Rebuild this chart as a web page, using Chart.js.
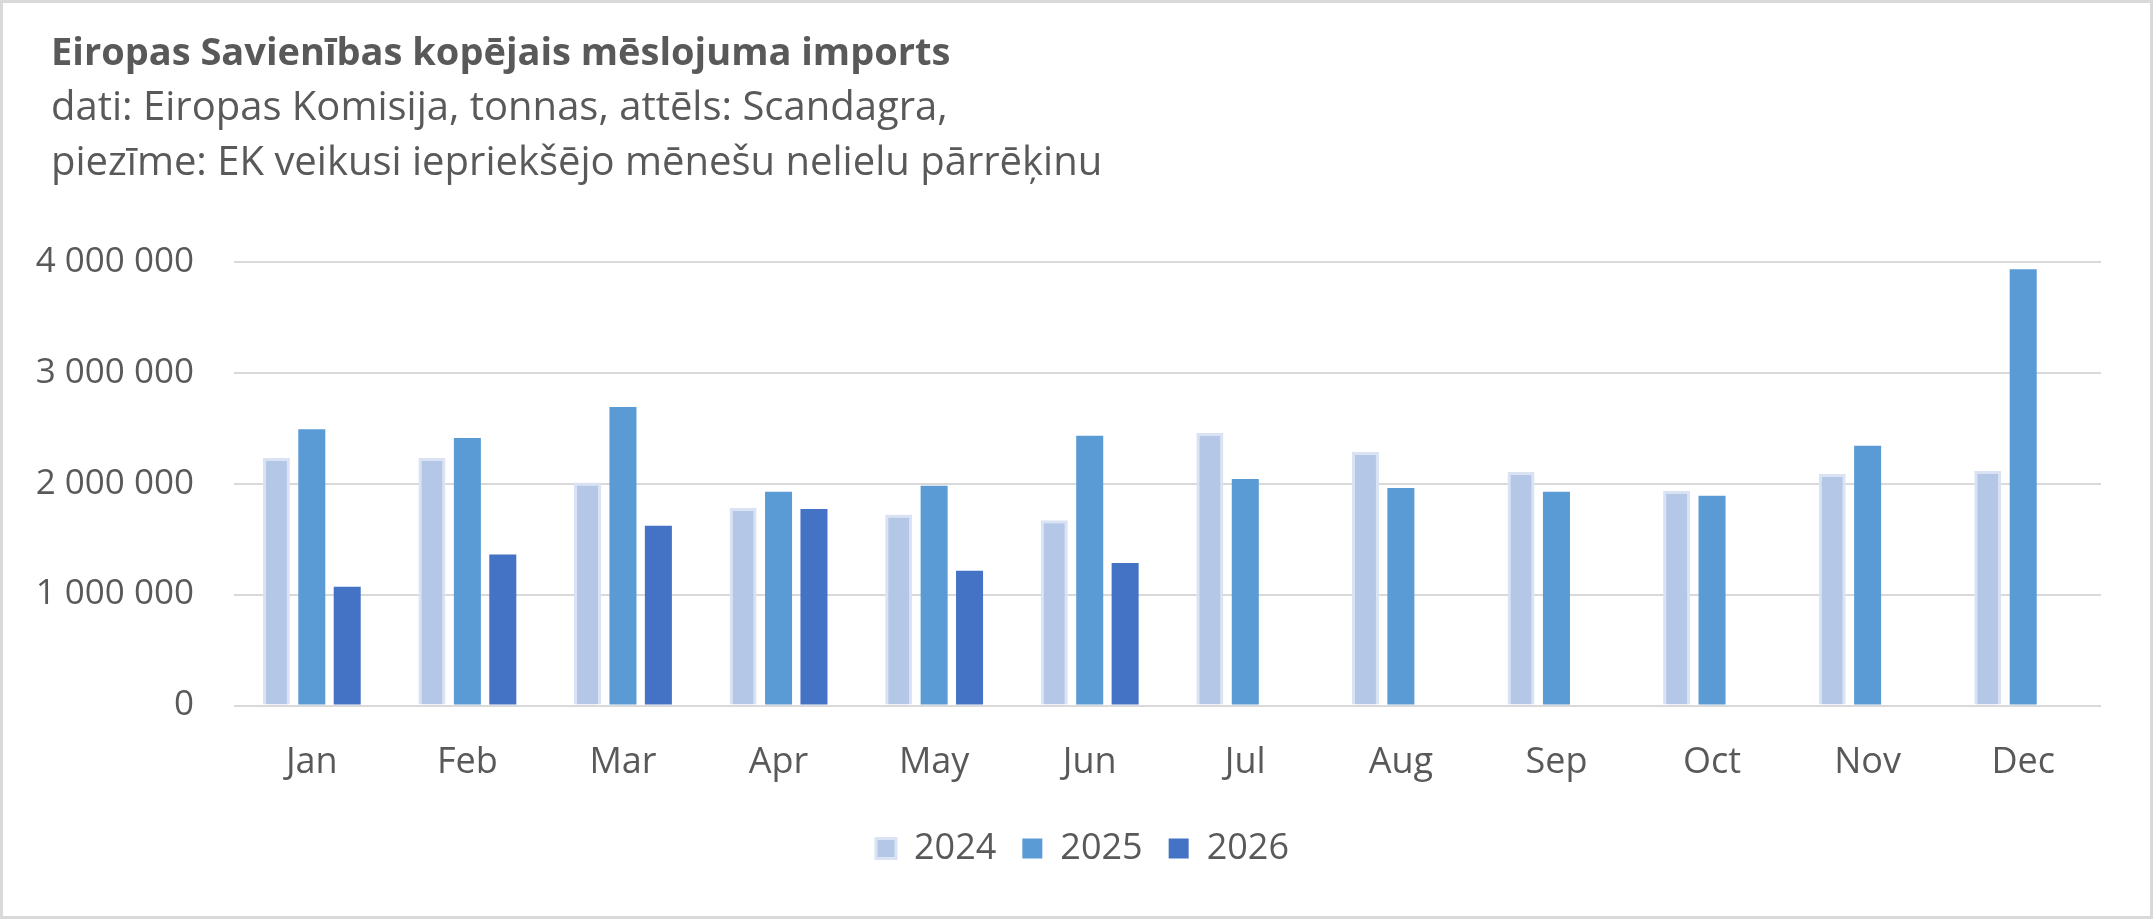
<!DOCTYPE html>
<html lang="lv">
<head>
<meta charset="utf-8">
<title>Eiropas Savienības kopējais mēslojuma imports</title>
<script src="https://cdn.jsdelivr.net/npm/chart.js@4"></script>
<style>
  html, body { margin: 0; padding: 0; background: #ffffff; }
  #chart { display: block; outline: 3px solid #d9d9d9; outline-offset: -3px; }
</style>
</head>
<body>
<canvas id="chart" width="2153" height="919"></canvas>
<script>
// Chart values (tonnas)
const months = ['Jan', 'Feb', 'Mar', 'Apr', 'May', 'Jun', 'Jul', 'Aug', 'Sep', 'Oct', 'Nov', 'Dec']
const imports2024 = [2230000, 2230000, 2010000, 1780000, 1720000, 1670000, 2455000, 2285000, 2105000, 1935000, 2085000, 2115000]
const imports2025 = [2490000, 2410000, 2690000, 1925000, 1980000, 2430000, 2040000, 1960000, 1925000, 1890000, 2340000, 3930000]
const imports2026 = [1070000, 1360000, 1620000, 1770000, 1215000, 1285000, null, null, null, null, null, null]
const yTicks = [0, 1000000, 2000000, 3000000, 4000000]

const titleText = 'Eiropas Savienības kopējais mēslojuma imports'
const subtitleLines = [
  'dati: Eiropas Komisija, tonnas, attēls: Scandagra,',
  'piezīme: EK veikusi iepriekšējo mēnešu nelielu pārrēķinu'
]

const textColor = '#595959'
const fontFamily = '"Open Sans", Lato, sans-serif'
const fontSize = 36
const subtitleSize = 40

/**
 * Formats a number with spaces as thousands separators.
 *
 * @param {number} value - The number to format.
 * @returns {string} - The formatted number.
 */
const formatSpaces = (value) => String(value).replace(/\B(?=(\d{3})+(?!\d))/g, ' ')

/**
 * Nudges the title block and the legend after layout:
 * the title starts right of the wide y tick labels, the legend sits
 * a little right of the canvas centre and a bit higher, like in the original.
 */
const layoutNudge = {
  id: 'layoutNudge',
  afterLayout: (chart) => {
    chart.boxes
      .filter((box) => box.position === 'top' && box.options && 'text' in box.options)
      .forEach((box) => { box.left = 51 })
    if (chart.legend) {
      chart.legend.left += 18
      chart.legend.right += 18
      chart.legend.top -= 16
      chart.legend.bottom -= 16
    }
  }
}

const barOptions = {
  categoryPercentage: 0.683,
  barPercentage: 0.763
}

new Chart(document.getElementById('chart'), {
  type: 'bar',
  data: {
    labels: months,
    datasets: [
      { label: '2024', data: imports2024, backgroundColor: '#b4c7e7', borderColor: '#dae3f3', borderWidth: 3, ...barOptions },
      { label: '2025', data: imports2025, backgroundColor: '#5b9bd5', borderWidth: 0, ...barOptions },
      { label: '2026', data: imports2026, backgroundColor: '#4472c4', borderWidth: 0, ...barOptions }
    ]
  },
  plugins: [layoutNudge],
  options: {
    responsive: false,
    animation: false,
    devicePixelRatio: 1,
    layout: {
      padding: { left: 28, right: 52, top: 0, bottom: 26.5 }
    },
    plugins: {
      title: {
        display: true,
        text: titleText,
        align: 'start',
        color: textColor,
        font: { family: fontFamily, size: 38, weight: 'bold', lineHeight: 1.2 },
        padding: { top: 31, bottom: 0 }
      },
      subtitle: {
        display: true,
        text: subtitleLines,
        align: 'start',
        color: textColor,
        font: { family: fontFamily, size: subtitleSize, weight: 'normal', lineHeight: 55 / subtitleSize },
        padding: { top: 5, bottom: 70 }
      },
      legend: {
        position: 'bottom',
        labels: {
          color: textColor,
          font: { family: fontFamily, size: fontSize },
          boxWidth: 20,
          boxHeight: 20,
          padding: 26
        }
      },
      tooltip: { enabled: false }
    },
    scales: {
      x: {
        grid: { display: false, drawTicks: false },
        border: { display: false },
        ticks: {
          color: textColor,
          font: { family: fontFamily, size: fontSize, lineHeight: 40 / fontSize },
          padding: 37.5
        }
      },
      y: {
        min: 0,
        max: 4000000,
        afterFit: (scale) => { scale.width = 234 - 28 },
        afterBuildTicks: (scale) => { scale.ticks = yTicks.map((value) => ({ value })) },
        grid: { color: '#d9d9d9', lineWidth: 2, drawTicks: false },
        border: { display: false },
        ticks: {
          color: textColor,
          font: { family: fontFamily, size: fontSize - 1 },
          padding: 40,
          callback: (value) => formatSpaces(value)
        }
      }
    }
  }
})
</script>
</body>
</html>
